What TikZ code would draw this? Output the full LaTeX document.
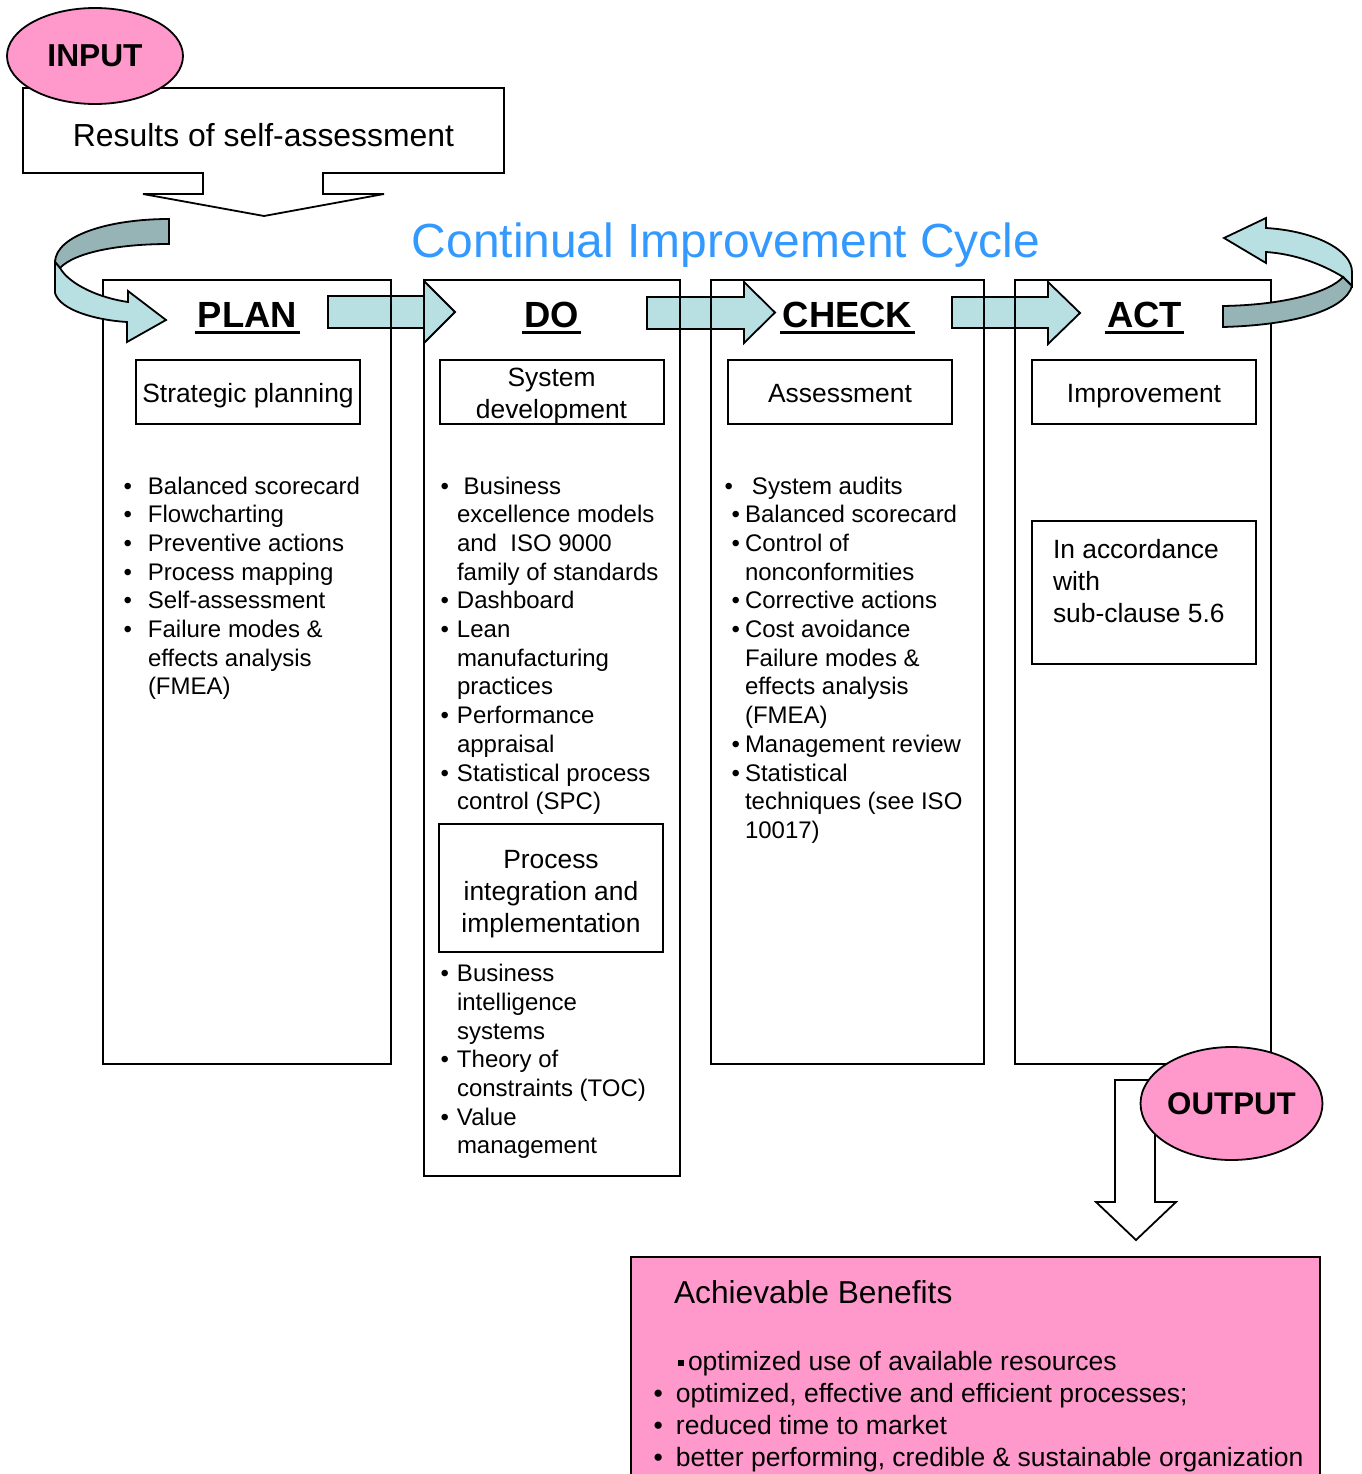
\documentclass[tikz,border=0pt]{standalone}
\usepackage{fontspec}
\setmainfont{Liberation Sans}
\usetikzlibrary{shapes.geometric}
\definecolor{ribl}{HTML}{B8DFE2}
\definecolor{ribd}{HTML}{96B3B5}
\definecolor{pinkf}{HTML}{FF99CC}
\definecolor{titleblue}{HTML}{3399FF}
\newcommand{\fs}[2]{\fontsize{#1pt}{#2pt}\selectfont}
\newcommand{\bu}[1]{\llap{\textbullet\hspace{#1pt}}}
\newcommand{\ctr}[1]{\hbox to 0pt{\hss#1\hss}}
\newcommand{\rw}[1]{\hbox{#1}}
\begin{document}
\begin{tikzpicture}[x=1pt,y=-1pt,line join=miter,
  bline/.style={line width=1.8pt},
  col/.style={draw,line width=1.8pt,anchor=north west,inner sep=0,outer sep=0},
  ibox/.style={draw,line width=1.8pt,anchor=north west,inner sep=0,outer sep=0,minimum width=224pt},
  txt/.style={inner sep=0,outer sep=0,anchor=base west},
  ctxt/.style={inner sep=0,outer sep=0,anchor=base},
  head/.style={ctxt,font=\fs{36.4}{40}\bfseries},
  lst/.style={txt,font=\fs{24}{28.7}},
  btxt/.style={font=\fs{26.4}{32}},
  blk/.style={fill=ribl,draw,line width=1.8pt}]
\useasboundingbox (0,0) rectangle (1361,1474);
\fill[white] (0,0) rectangle (1361,1474);

% straight block arrows
\filldraw[blk] (328,296) -- (424,296) -- (424,281) -- (455,312) -- (424,343) -- (424,328) -- (328,328) -- cycle;
\filldraw[blk] (647,297) -- (744,297) -- (744,282) -- (775,312.5) -- (744,343) -- (744,329) -- (647,329) -- cycle;
\filldraw[blk] (952,297) -- (1048,297) -- (1048,282) -- (1080,313) -- (1048,344) -- (1048,328) -- (952,328) -- cycle;

% columns
\node[col,minimum width=288pt,minimum height=784pt] (plan) at (103,280) {};
\node[col,minimum width=256pt,minimum height=896pt] (do) at (424,280) {};
\node[col,minimum width=273pt,minimum height=784pt] (check) at (711,280) {};
\node[col,minimum width=256pt,minimum height=784pt] (act) at (1015,280) {};

% inner boxes
\node[ibox,minimum height=64pt] (sp) at (136,360) {};
\node[ibox,minimum height=64pt] (sd) at (440,360) {};
\node[ibox,minimum height=64pt] (as) at (728,360) {};
\node[ibox,minimum height=64pt] (im) at (1032,360) {};
\node[ibox,minimum height=143pt] (ia) at (1032,521) {};
\node[ibox,minimum height=128pt] (pi) at (439,824) {};

% curved arrow left
\filldraw[fill=ribd,bline] (169,219) -- (169,244) .. controls (120,244) and (75,252) .. (60,268) -- (55,262) .. controls (56,235) and (110,219) .. (169,219) -- cycle;
\filldraw[fill=ribl,bline] (55,262) -- (55,293) .. controls (60,310) and (95,320) .. (127,322) -- (127,342) -- (166,320) -- (128,291) -- (128,302) .. controls (100,298) and (70,285) .. (60,268) -- cycle;

% curved arrow right
\filldraw[fill=ribl,bline] (1224,238) -- (1266,218) -- (1266,228) .. controls (1315,231) and (1352,250) .. (1352,272) -- (1352,286) -- (1343,277) .. controls (1322,264) and (1295,254) .. (1266,252) -- (1266,263) -- cycle;
\filldraw[fill=ribd,bline] (1223,306) .. controls (1285,305) and (1330,292) .. (1343,277) -- (1352,286) .. controls (1345,310) and (1295,325) .. (1223,327) -- cycle;

% input callout
\filldraw[fill=white,bline] (23,88) -- (504,88) -- (504,173) -- (323,173) -- (323,194) -- (384,194) -- (264,216) -- (143,194) -- (203,194) -- (203,173) -- (23,173) -- cycle;
\node[ctxt,font=\fs{31.9}{36}] (res) at (263.5,147) {Results of self-assessment};
\node[ellipse,draw,bline,fill=pinkf,minimum width=176pt,minimum height=96pt,inner sep=0,font=\fs{31.7}{36}\bfseries] (input) at (95,56) {INPUT};

% title
\node[ctxt,font=\fs{47.9}{52},text=titleblue] (title) at (726,257) {Continual Improvement Cycle};

% headings
\node[head] (hplan) at (247.5,327) {PLAN};
\node[head] (hdo) at (551.5,327) {DO};
\node[head] (hcheck) at (847.5,327) {CHECK};
\node[head] (hact) at (1144.5,327) {ACT};
\foreach \h in {hplan,hdo,hcheck,hact}
  \draw[line width=3pt] ([xshift=-2.5pt,yshift=-5.5pt]\h.base west) -- ([xshift=2.5pt,yshift=-5.5pt]\h.base east);

% box texts
\node[ctxt,btxt] (tsp) at (248,402) {Strategic planning};
\node[ctxt,btxt] (tsd) at (551.5,386) {\vtop{\ctr{System}\ctr{development}}};
\node[ctxt,btxt] (tas) at (840,402) {Assessment};
\node[ctxt,btxt] (tim) at (1144,402.7) {Improvement};
\node[txt,btxt] (tia) at (1053,558) {\vtop{\rw{In accordance}\rw{with}\rw{sub-clause 5.6}}};
\node[ctxt,btxt] (tpi) at (551,868) {\vtop{\ctr{Process}\ctr{integration and}\ctr{implementation}}};

% lists
\node[lst] (lplan) at (148,494) {\vtop{%
\rw{\bu{16}Balanced scorecard}
\rw{\bu{16}Flowcharting}
\rw{\bu{16}Preventive actions}
\rw{\bu{16}Process mapping}
\rw{\bu{16}Self-assessment}
\rw{\bu{16}Failure modes \&}
\rw{effects analysis}
\rw{(FMEA)}}};
\node[lst] (ldo) at (457,494) {\vtop{%
\rw{\bu{8}\hspace{6.7pt}Business}
\rw{excellence models}
\rw{and\ \ ISO 9000}
\rw{family of standards}
\rw{\bu{8}Dashboard}
\rw{\bu{8}Lean}
\rw{manufacturing}
\rw{practices}
\rw{\bu{8}Performance}
\rw{appraisal}
\rw{\bu{8}Statistical process}
\rw{control (SPC)}}};
\node[lst] (ldo2) at (457,981.6) {\vtop{%
\rw{\bu{8}Business}
\rw{intelligence}
\rw{systems}
\rw{\bu{8}Theory of}
\rw{constraints (TOC)}
\rw{\bu{8}Value}
\rw{management}}};
\node[lst] (lcheck) at (745,494) {\vtop{%
\rw{\bu{12}\hspace{7pt}System audits}
\rw{\bu{5}Balanced scorecard}
\rw{\bu{5}Control of}
\rw{nonconformities}
\rw{\bu{5}Corrective actions}
\rw{\bu{5}Cost avoidance}
\rw{Failure modes \&}
\rw{effects analysis}
\rw{(FMEA)}
\rw{\bu{5}Management review}
\rw{\bu{5}Statistical}
\rw{techniques (see ISO}
\rw{10017)}}};

% output
\filldraw[fill=white,bline] (1115,1080) -- (1155,1080) -- (1155,1202) -- (1176,1202) -- (1136,1240) -- (1096,1202) -- (1115,1202) -- cycle;
\node[ellipse,draw,bline,fill=pinkf,minimum width=177pt,minimum height=113pt,inner sep=0,font=\fs{31.3}{36}\bfseries] (output) at (1231.5,1103.5) {OUTPUT};

% benefits
\node[draw,bline,fill=pinkf,anchor=north west,minimum width=689pt,minimum height=240pt,inner sep=0,outer sep=0] (ben) at (631,1257) {};
\node[txt,font=\fs{31.7}{36}] (tben) at (674,1303) {Achievable Benefits};
\node[txt,font=\fs{26.5}{32}] (lben) at (676,1370) {\vtop{%
\rw{\kern2pt\rule[4pt]{6pt}{6pt}\kern4pt optimized use of available resources}
\rw{\bu{13}optimized, effective and efficient processes;}
\rw{\bu{13}reduced time to market}
\rw{\bu{13}better performing, credible \& sustainable organization}}};
\end{tikzpicture}
\end{document}
